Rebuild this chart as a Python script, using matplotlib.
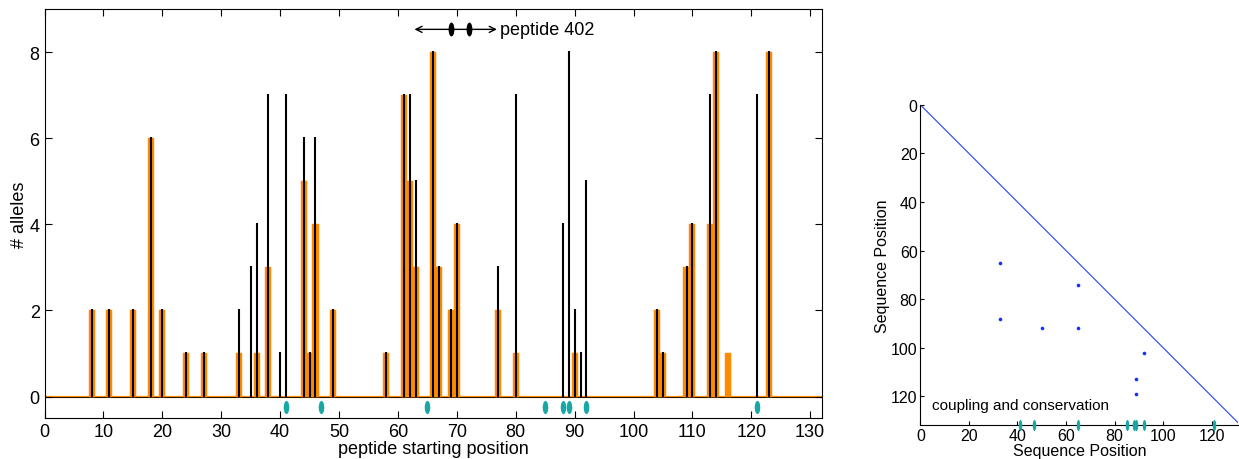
import matplotlib
matplotlib.use("Agg")
import matplotlib.pyplot as plt
from matplotlib.path import Path
from matplotlib.transforms import Affine2D

plt.rcParams["font.family"] = ["Liberation Sans", "DejaVu Sans"]

# peptide starting positions with orange bars and their allele counts
bar_pos = [8, 11, 15, 18, 20, 24, 27, 33, 36, 38, 44, 45, 46, 49, 58, 61, 62, 63,
           66, 67, 69, 70, 77, 80, 90, 104, 105, 109, 110, 113, 114, 116, 123]
bar_alleles = [2, 2, 2, 6, 2, 1, 1, 1, 1, 3, 5, 1, 4, 2, 1, 7, 5, 3,
               8, 3, 2, 4, 2, 1, 1, 2, 1, 3, 4, 4, 8, 1, 8]

# black stems
line_pos = [8, 11, 15, 18, 20, 24, 27, 33, 35, 36, 38, 40, 41, 44, 45, 46, 49, 58,
            61, 62, 63, 66, 67, 69, 70, 77, 80, 88, 89, 90, 91, 92, 104, 105,
            109, 110, 113, 114, 121, 123]
line_alleles = [2, 2, 2, 6, 2, 1, 1, 2, 3, 4, 7, 1, 7, 6, 1, 6, 2, 1,
                7, 7, 5, 8, 3, 2, 4, 3, 7, 4, 8, 2, 1, 5, 2, 1,
                3, 4, 7, 8, 7, 8]

# coupled / conserved sites
site_pos = [41, 47, 65, 85, 88, 89, 92, 121]

# coupling pairs (right panel)
pair_i = [33, 65, 33, 50, 65, 92, 89, 89]
pair_j = [65, 74, 88, 92, 92, 102, 113, 119]

peptide_marks = [69, 72]

orange = "#FF8A00"
teal = "#17A8A6"

ellipse = Path.unit_circle().transformed(Affine2D().scale(0.42, 1.0))
thin_ellipse = Path.unit_circle().transformed(Affine2D().scale(0.32, 1.0))

fig = plt.figure(figsize=(12.39, 4.6), dpi=100)

# ---- left panel
ax = fig.add_axes([0.036, 0.089, 0.6274, 0.889])
ax.axhline(0, color=orange, lw=1.6, zorder=1)
ax.axhline(0, color="black", lw=0.6, zorder=2)
ax.bar(bar_pos, bar_alleles, width=1.05, color=orange, edgecolor=orange,
       linewidth=0.3, zorder=2)
ax.vlines(line_pos, 0, [h + 0.03 for h in line_alleles], color="black",
          lw=1.5, zorder=3)
ax.plot(site_pos, [-0.24] * len(site_pos), linestyle="none", marker=ellipse,
        markersize=9.5, color=teal, markeredgewidth=0)

# peptide 402 annotation
ax.annotate("", xy=(62.8, 8.53), xytext=(76.8, 8.53),
            arrowprops=dict(arrowstyle="<->", color="black", lw=1.0,
                            mutation_scale=11, shrinkA=0, shrinkB=0))
ax.plot(peptide_marks, [8.53] * len(peptide_marks), linestyle="none",
        marker=ellipse, markersize=10, color="black", markeredgewidth=0)
ax.text(77.3, 8.53, "peptide 402", va="center", ha="left", fontsize=13)

ax.set_xlim(0, 132)
ax.set_ylim(-0.5, 9)
ax.set_xticks(range(0, 131, 10))
ax.set_yticks([0, 2, 4, 6, 8])
ax.tick_params(direction="in", top=True, right=True, length=5, labelsize=13)
ax.set_xlabel("peptide starting position", fontsize=13, labelpad=0)
ax.set_ylabel("# alleles", fontsize=13, labelpad=1)

# ---- right panel
ax2 = fig.add_axes([0.7428, 0.074, 0.2567, 0.696])
ax2.plot([0, 132], [0, 132], color="#2244EE", lw=0.8)
ax2.plot(pair_i, pair_j, linestyle="none", marker="o", markersize=2.6,
         color="#1030FF", markeredgewidth=0)
ax2.plot(site_pos, [131.8] * len(site_pos), linestyle="none",
         marker=thin_ellipse, markersize=8, color=teal, markeredgewidth=0,
         clip_on=False, zorder=5)
ax2.text(5, 123.5, "coupling and conservation", fontsize=11, va="center")
ax2.set_xlim(0, 131)
ax2.set_ylim(131.8, 0)
ax2.set_xticks(range(0, 121, 20))
ax2.set_yticks(range(0, 121, 20))
ax2.spines["top"].set_visible(False)
ax2.spines["right"].set_visible(False)
ax2.tick_params(direction="in", length=3, labelsize=11.5, pad=2)
ax2.set_xlabel("Sequence Position", fontsize=11.5, labelpad=0)
ax2.set_ylabel("Sequence Position", fontsize=11.5, labelpad=1)

fig.savefig("out.png", dpi=100)
